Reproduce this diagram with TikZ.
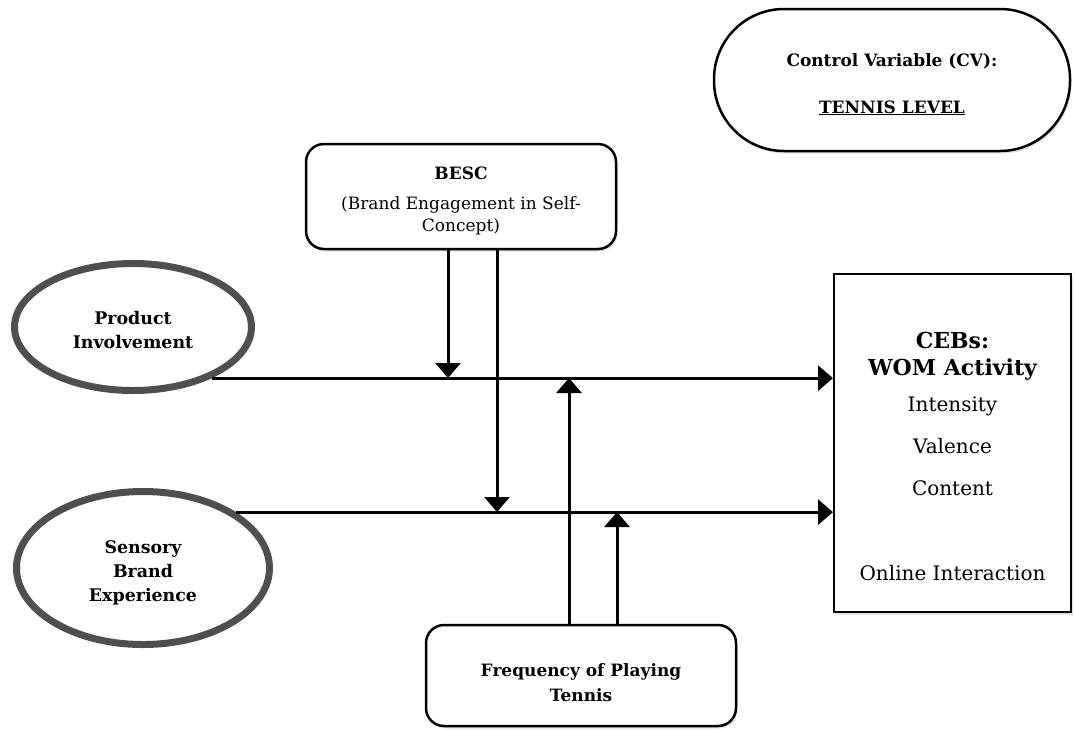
\documentclass[tikz,border=0pt]{standalone}
\usepackage{fontspec}
\setmainfont{DejaVu Serif}
\usetikzlibrary{arrows.meta,shapes.geometric,shadows}
\definecolor{ringgray}{HTML}{4F4F4F}

\begin{document}
\begin{tikzpicture}[x=1pt,y=-1pt,
  softshadow/.style={drop shadow={shadow xshift=1.5pt,shadow yshift=-2.5pt,opacity=0.22}},
  ring/.style={ellipse,draw=ringgray,line width=7pt,fill=white,softshadow,
    align=center,inner sep=0pt,text depth=0pt,font=\fontsize{17.4}{24}\selectfont\bfseries},
  roundbox/.style={rectangle,rounded corners=18pt,draw,line width=2.5pt,fill=white,
    softshadow,align=center,inner sep=0pt,text depth=0pt},
  flow/.style={line width=3pt,-{Triangle[width=25pt,length=15pt]}},
]
\useasboundingbox (0,0) rectangle (1075,729);

% control variable
\node[roundbox,rounded corners=70pt,minimum width=356pt,minimum height=142pt,
  text height=66pt,font=\fontsize{17}{47}\selectfont\bfseries] (cv) at (892,80)
  {Control Variable (CV):\\\underline{TENNIS LEVEL}};

% moderators
\node[roundbox,minimum width=310pt,minimum height=105pt,text height=69pt,
  font=\fontsize{17}{22}\selectfont] (besc) at (461,196.5)
  {\textbf{BESC}\\[8pt](Brand Engagement in Self-\\Concept)};
\node[roundbox,minimum width=310pt,minimum height=101pt,text height=51pt,
  font=\fontsize{17}{25}\selectfont\bfseries] (freq) at (581,675.5)
  {Frequency of Playing\\Tennis};

% independent variables
\node[ring,minimum width=237pt,minimum height=127pt,text height=42pt] (pi) at (133,327)
  {Product\\Involvement};
\node[ring,minimum width=253pt,minimum height=153pt,text height=66pt] (sbe) at (143,568)
  {Sensory\\Brand\\Experience};

% outcome
\node[draw,line width=2pt,fill=white,softshadow,inner sep=0pt] (ceb) at (952.5,443)
  {\parbox[t][338pt][t]{237pt}{\centering
   \vspace*{58pt}
   {\fontsize{22}{27}\selectfont\bfseries CEBs:\\WOM Activity\par}
   {\fontsize{20}{36}\selectfont Intensity\par}
   {\fontsize{20}{42}\selectfont Valence\\Content\par}
   {\fontsize{20}{85}\selectfont Online Interaction\par}}};

% meeting points on the main paths
\coordinate (pj1) at (448,378);
\coordinate (pj2) at (569,378);
\coordinate (sj1) at (497,512);
\coordinate (sj2) at (617,512);

\draw[flow] (pi.-33) -- (pi.-33 -| ceb.west);
\draw[flow] (sbe.31) -- (sbe.31 -| ceb.west);
\draw[flow] (besc.south -| pj1) -- (pj1);
\draw[flow] (besc.south -| sj1) -- (sj1);
\draw[flow] (freq.north -| pj2) -- (pj2);
\draw[flow] (freq.north -| sj2) -- (sj2);
\end{tikzpicture}
\end{document}
